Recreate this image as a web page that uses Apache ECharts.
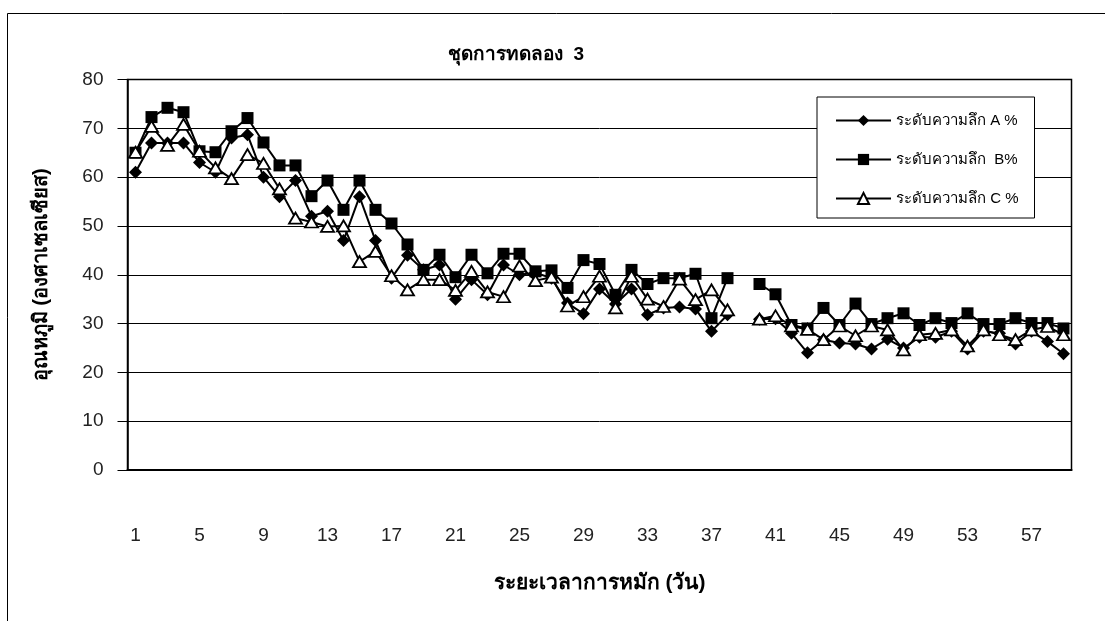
<!DOCTYPE html>
<html>
<head>
  <meta charset="utf-8">
  <title>ชุดการทดลอง 3</title>
  <script src="https://cdn.jsdelivr.net/npm/echarts@6/dist/echarts.min.js"></script>
  <style>
  html, body { margin: 0; padding: 0; background: #fff; }
  #main { width: 1105px; height: 621px; }
  </style>
</head>
<body>
  <div id="main"></div>
  <script type="text/javascript">
  // days 1..59
  var days = ['1','2','3','4','5','6','7','8','9','10','11','12','13','14','15','16','17','18','19','20',
    '21','22','23','24','25','26','27','28','29','30','31','32','33','34','35','36','37','38','39','40',
    '41','42','43','44','45','46','47','48','49','50','51','52','53','54','55','56','57','58','59'];

  // temperature (°C) at depth A, B, C ; day 39 missing
  var depthA = [61, 67, 67, 67, 63, 61, 68, 68.7, 60, 56, 59.3, 52, 53, 47, 56, 47, 39.3, 44, 41, 42,
    35, 39, 35.9, 42, 40, 40.4, 39.3, 34.2, 32, 37.1, 34, 37.1, 31.8, 33.2, 33.4, 33, 28.4, 31.8, null, 30.9,
    31, 28, 24, 26.7, 26, 25.8, 24.8, 26.8, 25, 27.2, 27.2, 28.4, 24.8, 28.4, 28, 25.8, 28.4, 26.3, 23.8];
  var depthB = [65, 72.3, 74.2, 73.3, 65.3, 65.1, 69.4, 72.1, 67.1, 62.4, 62.4, 56.1, 59.3, 53.3, 59.3, 53.3, 50.5, 46.2, 41, 44.1,
    39.5, 44.1, 40.3, 44.3, 44.3, 40.7, 40.9, 37.3, 43, 42.2, 35.9, 41, 38.1, 39.3, 39.3, 40.2, 31.1, 39.3, null, 38.1,
    36, 29.7, 29, 33.2, 29.7, 34.1, 29.9, 31.1, 32.1, 29.7, 31.1, 30.1, 32.1, 29.9, 29.9, 31.1, 30.1, 30.1, 29];
  var depthC = [65.1, 70.4, 66.5, 70.8, 65.3, 61.9, 59.7, 64.6, 62.8, 57.6, 51.6, 50.8, 49.9, 50, 42.7, 44.8, 39.8, 36.9, 39, 39,
    36.8, 40.7, 36.5, 35.5, 41.8, 38.8, 39.5, 33.6, 35.5, 39.7, 33.2, 39.7, 35, 33.5, 39.1, 34.9, 36.9, 32.8, null, 30.9,
    31.6, 29.5, 28.8, 26.7, 29.5, 27.5, 29.5, 28.7, 24.6, 27.7, 28, 28.7, 25.4, 28.7, 27.7, 26.7, 28.7, 29.4, 27.7];

  var seriesNames = ['ระดับความลึก A %', 'ระดับความลึก  B%', 'ระดับความลึก C %'];

  var font = '"Liberation Sans", Arial, "Noto Sans", sans-serif';
  var myChart = echarts.init(document.getElementById('main'));

  var option = {
    backgroundColor: '#fff',
    animation: false,
    textStyle: { fontFamily: font, color: '#000' },
    title: {
      text: 'ชุดการทดลอง  3',
      left: 511,
      top: 40,
      textAlign: 'center',
      textStyle: { fontSize: 19, fontWeight: 'bold', color: '#000', fontFamily: font }
    },
    graphic: [{
      type: 'rect',
      left: 5, top: 11,
      shape: { width: 1130, height: 640 },
      style: { fill: null, stroke: '#000', lineWidth: 1 },
      silent: true
    }],
    legend: {
      orient: 'vertical',
      left: 817,
      top: 97,
      width: 229,
      padding: [16, 16, 12, 18],
      itemWidth: 55,
      itemHeight: 14,
      itemGap: 24,
      borderColor: '#000',
      borderWidth: 1,
      backgroundColor: '#fff',
      textStyle: { fontSize: 15, color: '#000', fontFamily: font },
      data: seriesNames
    },
    grid: {
      left: 127.5, right: 33.5, top: 79.5, bottom: 151,
      show: true, borderColor: '#000', borderWidth: 1.5, backgroundColor: 'transparent'
    },
    xAxis: {
      type: 'category',
      data: days,
      boundaryGap: true,
      name: 'ระยะเวลาการหมัก (วัน)',
      nameLocation: 'middle',
      nameGap: 103,
      nameTextStyle: { fontSize: 21, fontWeight: 'bold', color: '#000', fontFamily: font },
      axisLine: { lineStyle: { color: '#000', width: 2 } },
      axisTick: { interval: 1, length: 11, lineStyle: { color: '#666', width: 1 } },
      axisLabel: { interval: 3, margin: 56, fontSize: 19, color: '#222', fontFamily: font },
      splitLine: { show: false }
    },
    yAxis: {
      type: 'value',
      min: 0, max: 80, interval: 10,
      name: 'อุณหภูมิ (องศาเซลเซียส)',
      nameLocation: 'middle',
      nameGap: 76,
      nameTextStyle: { fontSize: 20, fontWeight: 'bold', color: '#000', fontFamily: font },
      axisLine: { show: true, lineStyle: { color: '#000', width: 1.5 } },
      axisTick: { show: true, length: 10, lineStyle: { color: '#000' } },
      axisLabel: { margin: 24, fontSize: 19, color: '#222', fontFamily: font },
      splitLine: { lineStyle: { color: '#000', width: 1 } }
    },
    series: [{
      name: seriesNames[0],
      type: 'line',
      data: depthA,
      showAllSymbol: true,
      symbol: 'diamond',
      symbolSize: [13, 13],
      lineStyle: { color: '#000', width: 2 },
      itemStyle: { color: '#000', borderColor: '#000', borderWidth: 0 }
    }, {
      name: seriesNames[1],
      type: 'line',
      data: depthB,
      showAllSymbol: true,
      symbol: 'rect',
      symbolSize: 12,
      lineStyle: { color: '#000', width: 2 },
      itemStyle: { color: '#000', borderColor: '#000', borderWidth: 0 }
    }, {
      name: seriesNames[2],
      type: 'line',
      data: depthC,
      showAllSymbol: true,
      symbol: 'triangle',
      symbolSize: [13, 11],
      lineStyle: { color: '#000', width: 2 },
      itemStyle: { color: '#fff', borderColor: '#000', borderWidth: 1.8 }
    }]
  };
  myChart.setOption(option);
  window.onresize = myChart.resize;
  </script>
</body>
</html>
